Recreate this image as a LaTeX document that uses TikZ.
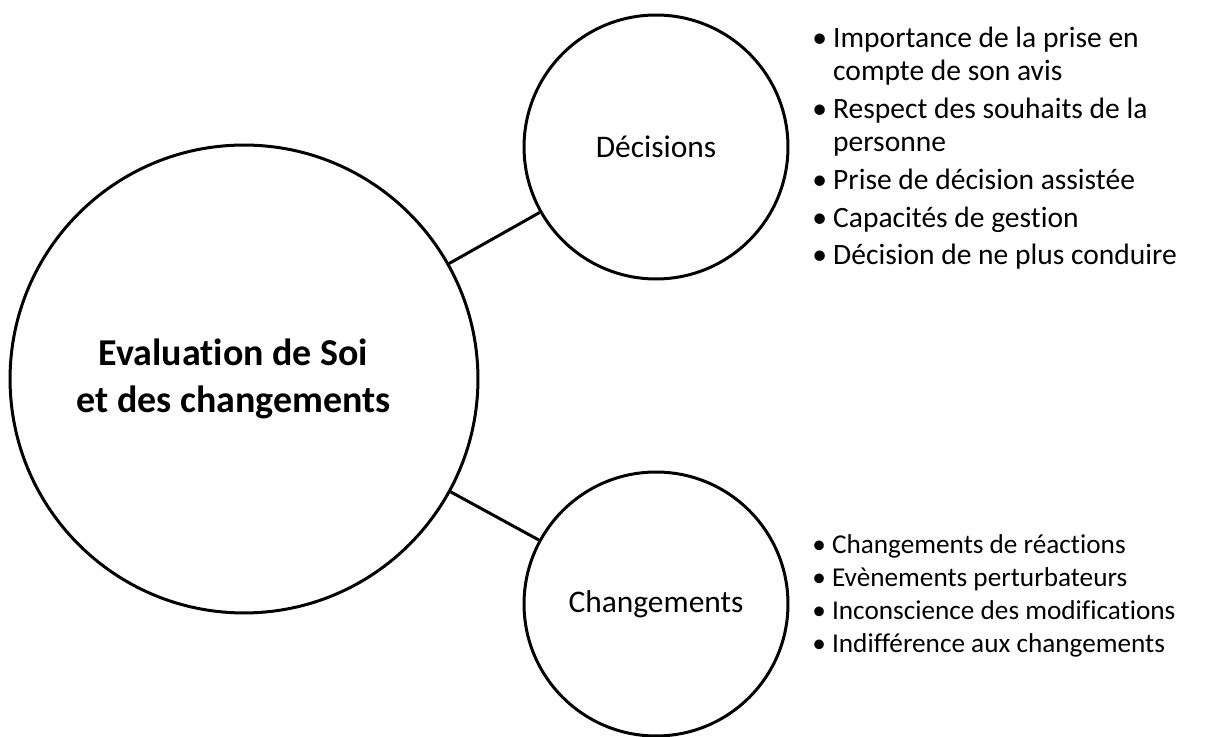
\documentclass[tikz,border=0pt]{standalone}
\usepackage{fontspec}
\setmainfont{Carlito}[Ligatures=NoCommon]
\usetikzlibrary{positioning}

\tikzset{
  bubble/.style={circle, draw, line width=1.7pt, inner sep=0pt, align=center},
  link/.style={line width=1.7pt},
  points/.style={anchor=base west, inner sep=0pt, font=\fontsize{16.8}{18.7}\selectfont}
}

\begin{document}
\begin{tikzpicture}[x=0.02cm, y=0.02cm]
	 \useasboundingbox (0,0) rectangle (1212,736);
	 \node[bubble, minimum size=9.36cm, font=\fontsize{21.6}{26.8}\selectfont\bfseries]
	 	(eval) at (244,357) {Evaluation de Soi\kern0.42cm\\ et des changements\kern0.42cm};
	 \node[bubble, minimum size=5.28cm, font=\fontsize{17.9}{21}\selectfont] (decisions) at (656,589) {Décisions};
	 \node[bubble, minimum size=5.28cm, font=\fontsize{17.9}{21}\selectfont] (changements) at (656,132) {Changements};
	 \draw[link] (eval) -- (decisions);
	 \draw[link] (eval) -- (changements);
	 %
	 \node[points] (decisionlist) at (812,688) {\begin{tabular}[t]{@{}l@{\hspace{3.5pt}}l@{}}
	 	\textbullet & Importance de la prise en\\
	 	 & compte de son avis\\[2.8pt]
	 	\textbullet & Respect des souhaits de la\\
	 	 & personne\\[2.8pt]
	 	\textbullet & Prise de décision assistée\\[2.8pt]
	 	\textbullet & Capacités de gestion\\[2.8pt]
	 	\textbullet & Décision de ne plus conduire
	 \end{tabular}};
	 \node[points, font=\fontsize{15.5}{18.7}\selectfont] (changementlist) at (812,182) {\begin{tabular}[t]{@{}l@{\hspace{3.5pt}}l@{}}
	 	\textbullet & Changements de réactions\\
	 	\textbullet & Evènements perturbateurs\\
	 	\textbullet & Inconscience des modifications\\
	 	\textbullet & Indifférence aux changements
	 \end{tabular}};
\end{tikzpicture}
\end{document}
